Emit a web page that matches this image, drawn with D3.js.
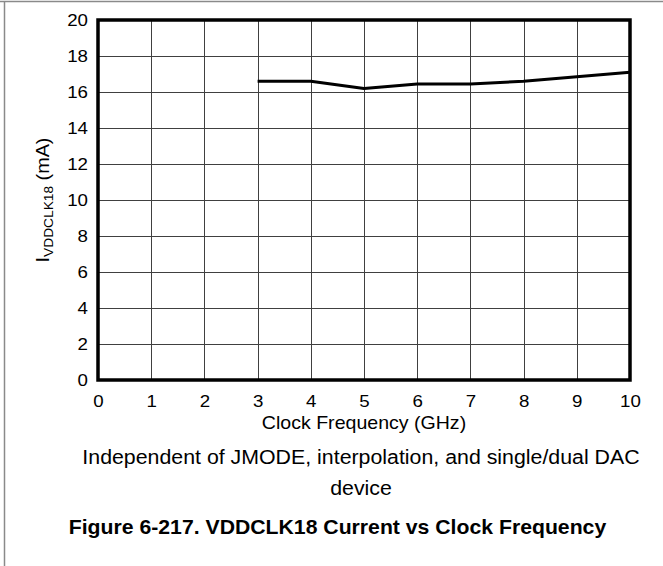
<!DOCTYPE html>
<html>
<head>
<meta charset="utf-8">
<script src="https://cdn.jsdelivr.net/npm/d3@7"></script>
<style>
  html, body { margin: 0; padding: 0; background: #fff; }
  svg { display: block; font-family: "Liberation Sans", Arial, sans-serif; }
</style>
</head>
<body>
<svg id="chart" width="663" height="566"></svg>
<script>
// Supply current measured at each clock frequency
const freqGHz = [3, 4, 5, 6, 7, 8, 9, 10];
const currentMA = [16.6, 16.6, 16.2, 16.45, 16.45, 16.6, 16.85, 17.1];
const xTicks = [0, 1, 2, 3, 4, 5, 6, 7, 8, 9, 10];
const yTicks = [0, 2, 4, 6, 8, 10, 12, 14, 16, 18, 20];

const svg = d3.select("#chart");
const W = 663, H = 566;
const plot = { left: 98, top: 20, right: 630, bottom: 380 };
const WIDEN = 1.1; // glyphs are set slightly wide

// Stretch text horizontally by a factor, keeping its anchor
function widen(sel, s) {
  sel.each(function () {
    const len = this.getComputedTextLength();
    d3.select(this).attr("textLength", len * s).attr("lengthAdjust", "spacingAndGlyphs");
  });
}

// Page frame (top and left rules)
svg.append("line").attr("x1", 0).attr("x2", W).attr("y1", 1.5).attr("y2", 1.5)
  .attr("stroke", "#8a8a8a").attr("stroke-width", 1.5);
svg.append("line").attr("x1", 4.5).attr("x2", 4.5).attr("y1", 1).attr("y2", H)
  .attr("stroke", "#8a8a8a").attr("stroke-width", 1.5);

const x = d3.scaleLinear().domain([0, 10]).range([plot.left, plot.right]);
const y = d3.scaleLinear().domain([0, 20]).range([plot.bottom, plot.top]);

// Grid
const grid = svg.append("g").attr("stroke", "#404040").attr("stroke-width", 1);
grid.selectAll(".vx").data(xTicks.slice(1, -1)).join("line")
  .attr("x1", d => Math.round(x(d)) + 0.5).attr("x2", d => Math.round(x(d)) + 0.5)
  .attr("y1", plot.top).attr("y2", plot.bottom);
grid.selectAll(".hy").data(yTicks.slice(1, -1)).join("line")
  .attr("x1", plot.left).attr("x2", plot.right)
  .attr("y1", d => Math.round(y(d)) + 0.5).attr("y2", d => Math.round(y(d)) + 0.5);

// Axes (labels only; the frame is drawn separately)
const xAxis = svg.append("g").attr("transform", `translate(0,${plot.bottom})`)
  .call(d3.axisBottom(x).tickValues(xTicks).tickSize(0).tickPadding(15).tickFormat(d3.format("d")));
const yAxis = svg.append("g").attr("transform", `translate(${plot.left},0)`)
  .call(d3.axisLeft(y).tickValues(yTicks).tickSize(0).tickPadding(10).tickFormat(d3.format("d")));
[xAxis, yAxis].forEach(a => {
  a.select(".domain").remove();
  a.selectAll("text").attr("font-size", 17).attr("fill", "#000")
    .attr("font-family", "'Liberation Sans', Arial, sans-serif")
    .call(widen, WIDEN);
});

// Data line
const line = d3.line().x((d, i) => x(freqGHz[i])).y(d => y(d));
svg.append("path").datum(currentMA)
  .attr("d", line).attr("fill", "none").attr("stroke", "#000")
  .attr("stroke-width", 3).attr("stroke-linejoin", "round");

// Plot frame
svg.append("rect").attr("x", plot.left).attr("y", plot.top)
  .attr("width", plot.right - plot.left).attr("height", plot.bottom - plot.top)
  .attr("fill", "none").attr("stroke", "#000").attr("stroke-width", 3.5);

// Axis titles
svg.append("text").attr("x", (plot.left + plot.right) / 2).attr("y", 429)
  .attr("text-anchor", "middle").attr("font-size", 17.8).text("Clock Frequency (GHz)")
  .call(widen, WIDEN);

const yt = svg.append("text")
  .attr("transform", `translate(49,${(plot.top + plot.bottom) / 2}) rotate(-90) scale(${WIDEN},1)`)
  .attr("text-anchor", "middle").attr("font-size", 18);
yt.append("tspan").text("I");
yt.append("tspan").attr("font-size", 12.5).attr("dy", 3.5).text("VDDCLK18");
yt.append("tspan").attr("dy", -3.5).text(" (mA)");

// Notes and figure caption
svg.append("text").attr("x", 361).attr("y", 464).attr("text-anchor", "middle")
  .attr("font-size", 19.4).text("Independent of JMODE, interpolation, and single/dual DAC")
  .call(widen, WIDEN);
svg.append("text").attr("x", 361).attr("y", 495).attr("text-anchor", "middle")
  .attr("font-size", 19.4).text("device")
  .call(widen, WIDEN);
svg.append("text").attr("x", 337.5).attr("y", 534).attr("text-anchor", "middle")
  .attr("font-size", 19.3).attr("font-weight", "bold")
  .text("Figure 6-217. VDDCLK18 Current vs Clock Frequency")
  .call(widen, WIDEN);
</script>
</body>
</html>
